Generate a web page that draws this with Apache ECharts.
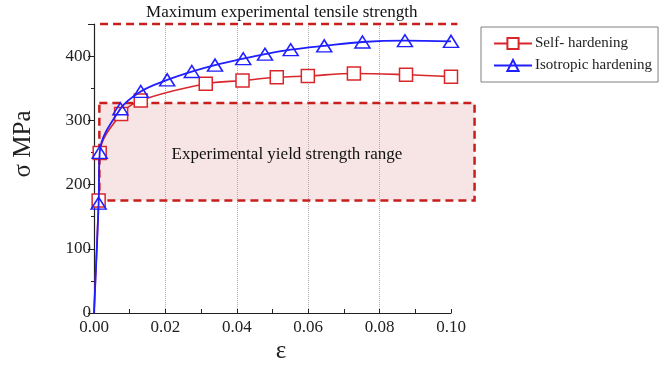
<!DOCTYPE html>
<html>
<head>
<meta charset="utf-8">
<script src="https://cdn.jsdelivr.net/npm/echarts@6/dist/echarts.min.js"></script>
<style>
  html, body { margin: 0; padding: 0; background: #fff; }
  #chart { width: 664px; height: 371px; }
</style>
</head>
<body>
<div id="chart"></div>
<script>
// Stress–strain curves: strain ε vs stress σ (MPa)
const selfStrain = [0, 0.0013, 0.0016, 0.0076, 0.0131, 0.0313, 0.0416, 0.0512, 0.0599, 0.0728, 0.0874, 0.1];
const selfStress = [0, 175, 249, 310, 331, 357, 362, 367, 369, 373, 371, 368];

const isoStrain = [0, 0.0013, 0.0016, 0.0074, 0.0131, 0.0205, 0.0274, 0.0339, 0.0418, 0.0479, 0.0551, 0.0645, 0.0752, 0.0871, 0.1];
const isoStress = [0, 171, 250, 318, 345, 363, 376, 386, 396, 403, 410, 416, 422, 424, 423];

// Experimental reference bands
const yieldRange = [175, 327];            // MPa
const yieldStrainSpan = [0.0015, 0.1066];  // horizontal reach of the band
const tensileMax = 450;                   // MPa
const tensileStrainSpan = [0.0017, 0.1018];

const xTicks = ['0.00', '0.02', '0.04', '0.06', '0.08', '0.10'];

const serif = '"Liberation Serif", "DejaVu Serif", serif';
const red = '#d8262b';
const blue = '#1f1fff';
const bandRed = '#c81e1e';

const pairs = (xs, ys) => xs.map((x, i) => [x, ys[i]]);
// the origin point carries no marker (it sits on the axis corner)
const withBareOrigin = (pts) => pts.map((p) => (p[0] === 0 && p[1] === 0) ? { value: p, symbol: 'none' } : p);

const chart = echarts.init(document.getElementById('chart'));
chart.setOption({
  animation: false,
  backgroundColor: '#fff',
  grid: { left: 94, right: 213, top: 24, bottom: 58, containLabel: false, outerBoundsMode: 'none' },
  graphic: [
    {
      type: 'text', x: 23, y: 144, rotation: Math.PI / 2,
      style: { text: 'σ MPa', font: '25px ' + serif, fill: '#222', align: 'center', verticalAlign: 'middle' }
    },
    {
      type: 'text', x: 281, y: 351,
      style: { text: 'ε', font: '25px ' + serif, fill: '#222', align: 'center', verticalAlign: 'middle' }
    }
  ],
  legend: {
    orient: 'vertical',
    left: 481, top: 27,
    padding: [9, 6, 9, 12],
    itemGap: 7,
    itemWidth: 38, itemHeight: 14,
    borderColor: '#808080', borderWidth: 1,
    backgroundColor: '#fff',
    textStyle: { fontFamily: serif, fontSize: 15, color: '#222', padding: [0, 0, 0, -2] },
    data: ['Self- hardening', 'Isotropic hardening']
  },
  xAxis: {
    type: 'value', min: 0, max: 0.1, interval: 0.02,
    axisLine: { show: true, onZero: false, lineStyle: { color: '#222', width: 1.2 } },
    axisTick: { show: true, inside: true, length: 4, lineStyle: { color: '#222' } },
    minorTick: { show: true, splitNumber: 2, length: 4, lineStyle: { color: '#222' } },
    axisLabel: {
      fontFamily: serif, fontSize: 17, color: '#222', margin: 6,
      formatter: (v) => xTicks[Math.round(v / 0.02)]
    },
    splitLine: { show: true, showMinLine: false, showMaxLine: false,
      lineStyle: { type: 'dotted', color: '#aaa', width: 1 } }
  },
  yAxis: {
    type: 'value', min: 0, max: 450, interval: 100,
    axisLine: { show: true, lineStyle: { color: '#222', width: 1.2 } },
    axisTick: { show: true, length: 6, lineStyle: { color: '#222' } },
    minorTick: { show: true, splitNumber: 2, length: 3, lineStyle: { color: '#222' } },
    axisLabel: { fontFamily: serif, fontSize: 17, color: '#222', margin: 3, showMaxLabel: false },
    splitLine: { show: false }
  },
  series: [
    {
      // yield-strength band and tensile-strength limit
      type: 'custom',
      clip: false,
      silent: true,
      z: 1,
      data: [[0]],
      renderItem: (params, api) => {
        const p0 = api.coord([yieldStrainSpan[0], yieldRange[1]]);
        const p1 = api.coord([yieldStrainSpan[1], yieldRange[0]]);
        const t0 = api.coord([tensileStrainSpan[0], tensileMax]);
        const t1 = api.coord([tensileStrainSpan[1], tensileMax]);
        return {
          type: 'group',
          children: [
            {
              type: 'rect',
              shape: { x: p0[0], y: p0[1], width: p1[0] - p0[0], height: p1[1] - p0[1] },
              style: { fill: 'rgba(225, 160, 160, 0.28)', stroke: bandRed, lineWidth: 2.5, lineDash: [8, 5] }
            },
            {
              type: 'line',
              shape: { x1: t0[0], y1: t0[1], x2: t1[0], y2: t1[1] },
              style: { stroke: bandRed, lineWidth: 2.5, lineDash: [8, 5] }
            },
            {
              type: 'text',
              x: (p0[0] + p1[0]) / 2, y: p0[1] + 52,
              style: { text: 'Experimental yield strength range', font: '17px ' + serif,
                fill: '#111', align: 'center', verticalAlign: 'middle' }
            },
            {
              type: 'text',
              x: (t0[0] + t1[0]) / 2 + 3, y: t0[1] - 11,
              style: { text: 'Maximum experimental tensile strength', font: '17px ' + serif,
                fill: '#111', align: 'center', verticalAlign: 'middle' }
            }
          ]
        };
      }
    },
    {
      name: 'Self- hardening',
      type: 'line',
      z: 3,
      data: withBareOrigin(pairs(selfStrain, selfStress)),
      smooth: 0.35,
      symbol: 'rect',
      symbolSize: 13,
      itemStyle: { color: '#fff', borderColor: red, borderWidth: 1.5 },
      lineStyle: { color: red, width: 1.6 }
    },
    {
      name: 'Isotropic hardening',
      type: 'line',
      z: 4,
      data: withBareOrigin(pairs(isoStrain, isoStress)),
      smooth: 0.35,
      symbol: 'triangle',
      symbolSize: [15, 12],
      itemStyle: { color: 'rgba(255,255,255,0)', borderColor: blue, borderWidth: 1.5 },
      lineStyle: { color: blue, width: 1.8 }
    }
  ]
});
</script>
</body>
</html>
